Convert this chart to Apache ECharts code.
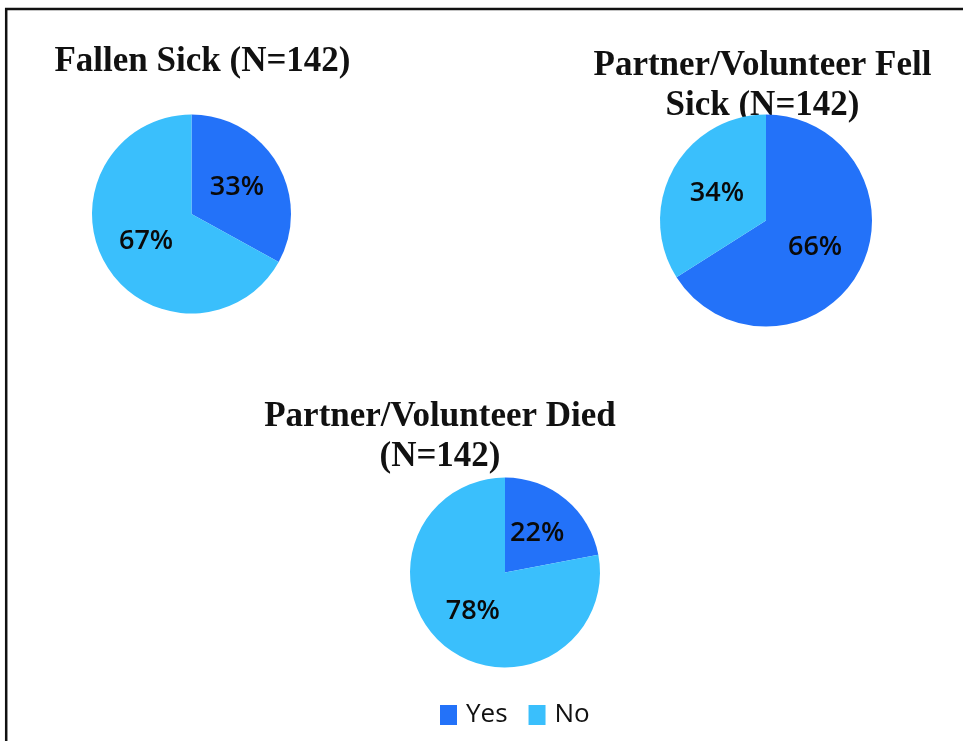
<!DOCTYPE html>
<html>
<head>
<meta charset="utf-8">
<script src="https://cdn.jsdelivr.net/npm/echarts@6/dist/echarts.min.js"></script>
<style>
html,body{margin:0;padding:0;background:#fff;}
#chart{width:963px;height:741px;}
</style>
</head>
<body>
<div id="chart"></div>
<script>
const categories = ['Yes', 'No'];
const fallenSick = [33, 67];
const partnerFellSick = [66, 34];
const partnerDied = [22, 78];
const titles = ['Fallen Sick (N=142)', 'Partner/Volunteer Fell\nSick (N=142)', 'Partner/Volunteer Died\n(N=142)'];
const colors = ['#2372f9', '#3abffc'];

const chart = echarts.init(document.getElementById('chart'));

function pieSeries(values, center, radius) {
  return {
    type: 'pie',
    center: center,
    radius: radius,
    startAngle: 90,
    clockwise: true,
    animation: false,
    silent: true,
    itemStyle: { borderWidth: 0 },
    label: {
      show: true,
      position: 'inside',
      formatter: '{c}%',
      fontFamily: 'Open Sans',
      fontWeight: 600,
      fontSize: 27,
      color: '#0a0a0a'
    },
    labelLine: { show: false },
    data: categories.map((c, i) => ({ name: c, value: values[i], itemStyle: { color: colors[i] } }))
  };
}

const titleFont = 'bold 35px "Liberation Serif"';

chart.setOption({
  backgroundColor: '#fff',
  animation: false,
  legend: {
    data: categories,
    left: 440,
    top: 702,
    padding: 0,
    orient: 'horizontal',
    itemWidth: 17,
    itemHeight: 20,
    itemGap: 21,
    icon: 'rect',
    textStyle: { fontFamily: 'Open Sans', fontSize: 26, color: '#111', padding: [0, 0, 0, 4] }
  },
  graphic: [
    { type: 'line', shape: { x1: 5, y1: 9, x2: 963, y2: 9 }, style: { stroke: '#111', lineWidth: 2.5 } },
    { type: 'line', shape: { x1: 6.2, y1: 8, x2: 6.2, y2: 741 }, style: { stroke: '#111', lineWidth: 2.5 } },
    { type: 'text', x: 202.5, y: 42, style: { text: titles[0], textAlign: 'center', textVerticalAlign: 'top', font: titleFont, lineHeight: 40, fill: '#111' } },
    { type: 'text', x: 762.5, y: 46, style: { text: titles[1], textAlign: 'center', textVerticalAlign: 'top', font: titleFont, lineHeight: 40, fill: '#111' } },
    { type: 'text', x: 440, y: 397, style: { text: titles[2], textAlign: 'center', textVerticalAlign: 'top', font: titleFont, lineHeight: 40, fill: '#111' } }
  ],
  series: [
    pieSeries(fallenSick, [191.5, 214], 99.5),
    pieSeries(partnerFellSick, [766, 220.5], 106),
    pieSeries(partnerDied, [505, 572.5], 95)
  ]
});
</script>
</body>
</html>
